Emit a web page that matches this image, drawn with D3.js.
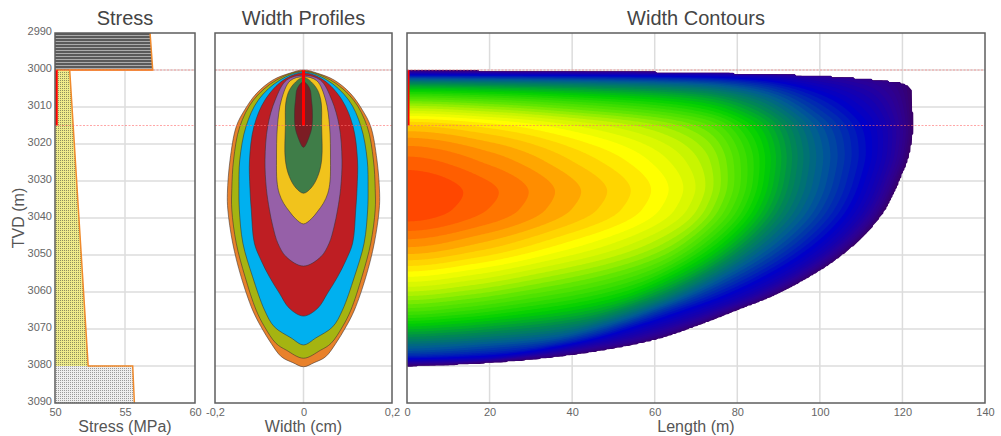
<!DOCTYPE html>
<html>
<head>
<meta charset="utf-8">
<script src="https://cdn.jsdelivr.net/npm/d3@7"></script>
<style>
  body { margin: 0; background: #fff; }
  svg { display: block; font-family: "Liberation Sans", Arial, sans-serif; }
</style>
</head>
<body>
<svg width="1001" height="436"></svg>
<script>
// ---- data ----
const depthTicks = [2990, 3000, 3010, 3020, 3030, 3040, 3050, 3060, 3070, 3080, 3090];
const stressTicks = [50, 55, 60];
const widthTicks = [-0.2, 0, 0.2];
const lengthTicks = [0, 20, 40, 60, 80, 100, 120, 140];
const perfInterval = [3000, 3015];

// stress layers (depth in m, stress in MPa)
const layerTop = [2990, 3000, 3080];
const layerBase = [3000, 3080, 3090];
const stressAtTop = [56.79, 51.05, 55.55];
const stressAtBase = [56.98, 52.37, 55.67];
const layerFill = ['url(#shale)', 'url(#sand)', 'url(#silt)'];

// width profiles, outermost (latest) first; half width in cm
const profileColors = ['#e8812b', '#a5b411', '#00b0ef', '#be1e23', '#9660a8', '#f1c31c', '#3f7d48', '#7c1d24'];
const profileDepths = [
  [3000.0, 3000.9, 3002.7, 3006.3, 3010.8, 3015.3, 3024.3, 3033.3, 3037.8, 3046.8, 3055.9, 3064.9, 3069.4, 3073.9, 3077.5, 3079.1, 3080.2],
  [3000.3, 3002.7, 3008.1, 3015.3, 3024.3, 3032.0, 3037.8, 3046.8, 3055.9, 3064.9, 3069.4, 3073.9, 3075.7, 3077.9],
  [3000.5, 3002.7, 3008.1, 3015.3, 3024.3, 3032.0, 3037.8, 3046.8, 3055.9, 3064.9, 3069.4, 3072.4, 3074.3],
  [3000.8, 3002.7, 3008.1, 3015.3, 3024.3, 3032.0, 3037.8, 3046.8, 3051.4, 3055.9, 3060.4, 3064.4, 3066.5],
  [3001.4, 3002.7, 3008.1, 3015.3, 3024.3, 3032.0, 3037.8, 3042.4, 3046.8, 3050.5, 3053.0],
  [3001.8, 3002.9, 3008.1, 3015.3, 3024.3, 3030.0, 3033.3, 3036.0, 3038.2, 3040.2, 3041.6],
  [3002.0, 3004.5, 3008.1, 3015.3, 3024.3, 3028.8, 3031.9, 3033.3],
  [3003.2, 3005.0, 3008.1, 3010.8, 3015.3, 3018.0, 3020.9]
];
const profileWidths = [
  [0, 0.032, 0.069, 0.106, 0.133, 0.152, 0.166, 0.172, 0.171, 0.160, 0.141, 0.115, 0.096, 0.073, 0.050, 0.024, 0],
  [0, 0.061, 0.113, 0.144, 0.158, 0.162, 0.162, 0.152, 0.132, 0.107, 0.088, 0.062, 0.039, 0],
  [0, 0.053, 0.102, 0.130, 0.144, 0.146, 0.145, 0.137, 0.115, 0.088, 0.066, 0.028, 0],
  [0, 0.045, 0.087, 0.112, 0.122, 0.121, 0.118, 0.111, 0.096, 0.077, 0.054, 0.032, 0],
  [0, 0.038, 0.064, 0.081, 0.087, 0.084, 0.077, 0.069, 0.058, 0.039, 0],
  [0, 0.030, 0.050, 0.059, 0.061, 0.060, 0.055, 0.045, 0.032, 0.018, 0],
  [0, 0.027, 0.039, 0.041, 0.041, 0.032, 0.017, 0],
  [0, 0.014, 0.018, 0.020, 0.019, 0.013, 0]
];

// fracture outline for the contour plot
const topEdgeLength = [0, 24, 52, 72, 86, 102, 115, 120.2, 122.4];
const topEdgeDepth = [3000.0, 3000.3, 3000.5, 3000.9, 3001.2, 3001.8, 3002.9, 3003.6, 3005.4];
const tipDepth = [3005.4, 3015.4, 3022.4, 3029.7, 3037.0, 3044.1, 3050.5, 3055.9, 3061.5, 3065.0, 3068.5, 3073.0, 3075.7, 3077.6, 3078.9, 3079.7, 3080.2];
const tipLength = [122.4, 122.7, 121.9, 119.5, 116.4, 111.5, 105.0, 97.7, 88.0, 80.0, 72.0, 60.0, 48.0, 36.0, 24.0, 12.0, 0];
// width relative to the wellbore width vs fraction of the local half length
const lateralFrac = [0, 0.17, 0.33, 0.5, 0.59, 0.68, 0.8, 0.88, 0.93, 0.985, 1];
const lateralWidth = [1, 0.965, 0.91, 0.84, 0.78, 0.66, 0.44, 0.32, 0.24, 0.09, 0];
// colour map of normalised width
const colorStops = [0, 0.12, 0.25, 0.38, 0.48, 0.58, 0.69, 0.77, 0.83, 0.89, 0.94, 1];
const colorValues = ['#3a0064', '#2c0096', '#0000c8', '#005a96', '#008a50', '#00d000', '#60e600', '#c8f500', '#ffff00', '#ffc000', '#ff8000', '#ff3c00'];

// ---- helpers ----
// monotone cubic through read points (smooth, no overshoot)
function monotone(xs, ys, flatStart) {
  const n = xs.length, h = [], m = [], t = [];
  for (let i = 0; i < n - 1; i++) { h[i] = xs[i + 1] - xs[i]; m[i] = (ys[i + 1] - ys[i]) / h[i]; }
  t[0] = flatStart ? 0 : m[0];
  t[n - 1] = m[n - 2];
  for (let i = 1; i < n - 1; i++) {
    if (m[i - 1] * m[i] <= 0) t[i] = 0;
    else {
      const w1 = 2 * h[i] + h[i - 1], w2 = h[i] + 2 * h[i - 1];
      t[i] = (w1 + w2) / (w1 / m[i - 1] + w2 / m[i]);
    }
  }
  return x => {
    if (x <= xs[0]) return ys[0];
    if (x >= xs[n - 1]) return ys[n - 1];
    const i = Math.min(n - 2, d3.bisectRight(xs, x) - 1);
    const s = (x - xs[i]) / h[i];
    return (1 + 2 * s) * (1 - s) * (1 - s) * ys[i] + s * (1 - s) * (1 - s) * h[i] * t[i]
      + s * s * (3 - 2 * s) * ys[i + 1] + s * s * (s - 1) * h[i] * t[i + 1];
  };
}

// ---- layout ----
const plotTop = 33, plotBottom = 403;
const svg = d3.select('svg');
const fmt = d => String(d).replace('.', ',');

const yDepth = d3.scaleLinear().domain([2990, 3090]).range([plotTop, plotBottom]);
const xStress = d3.scaleLinear().domain([50, 60]).range([55, 195]);
const xWidth = d3.scaleLinear().domain([-0.2, 0.2]).range([215, 392]);
const xLength = d3.scaleLinear().domain([0, 140]).range([407, 985]);

// patterns
const defs = svg.append('defs');
const shale = defs.append('pattern').attr('id', 'shale').attr('patternUnits', 'userSpaceOnUse')
  .attr('width', 4).attr('height', 3);
shale.append('rect').attr('width', 4).attr('height', 3).attr('fill', '#5a5a5a');
shale.append('rect').attr('y', 2).attr('width', 4).attr('height', 1).attr('fill', '#ababab');
const sand = defs.append('pattern').attr('id', 'sand').attr('patternUnits', 'userSpaceOnUse')
  .attr('width', 2).attr('height', 2);
sand.append('rect').attr('width', 2).attr('height', 2).attr('fill', '#efeb8a');
sand.append('rect').attr('width', 1).attr('height', 1).attr('fill', '#8f8f5e');
const silt = defs.append('pattern').attr('id', 'silt').attr('patternUnits', 'userSpaceOnUse')
  .attr('width', 2).attr('height', 2);
silt.append('rect').attr('width', 2).attr('height', 2).attr('fill', '#eeeeee');
silt.append('rect').attr('width', 1).attr('height', 1).attr('fill', '#9a9a9a');

function drawGrid(xScale, xGrid) {
  const g = svg.append('g').attr('stroke', '#dcdcdc').attr('stroke-width', 1.5);
  const [x0, x1] = xScale.range();
  g.selectAll('line.h').data(depthTicks.slice(1, -1)).enter().append('line')
    .attr('x1', x0).attr('x2', x1)
    .attr('y1', d => yDepth(d)).attr('y2', d => yDepth(d));
  g.selectAll('line.v').data(xGrid).enter().append('line')
    .attr('x1', d => xScale(d)).attr('x2', d => xScale(d))
    .attr('y1', plotTop).attr('y2', plotBottom);
}

function drawFrame(xScale, title, xTitle, ticks) {
  const [x0, x1] = xScale.range();
  // perforation markers
  svg.append('g').selectAll('line').data(perfInterval).enter().append('line')
    .attr('x1', x0).attr('x2', x1)
    .attr('y1', d => yDepth(d)).attr('y2', d => yDepth(d))
    .attr('stroke', '#ff6a6a').attr('stroke-opacity', 0.6)
    .attr('stroke-dasharray', '2,1.5');
  svg.append('rect').attr('x', x0).attr('y', plotTop)
    .attr('width', x1 - x0).attr('height', plotBottom - plotTop)
    .attr('fill', 'none').attr('stroke', '#5e5e5e').attr('stroke-width', 1.5);
  const ax = svg.append('g').attr('transform', `translate(0,${plotBottom})`)
    .call(d3.axisBottom(xScale).tickValues(ticks).tickSize(0).tickPadding(5).tickFormat(fmt));
  ax.select('.domain').remove();
  ax.selectAll('text').attr('fill', '#666').attr('font-size', 11);
  svg.append('text').attr('x', (x0 + x1) / 2).attr('y', 25)
    .attr('text-anchor', 'middle').attr('font-size', 20).attr('fill', '#444').text(title);
  svg.append('text').attr('x', (x0 + x1) / 2).attr('y', 432)
    .attr('text-anchor', 'middle').attr('font-size', 16).attr('fill', '#555').text(xTitle);
}

// ---- Stress panel ----
drawGrid(xStress, [55]);
const layers = layerTop.map((t, i) => ({top: t, base: layerBase[i], sTop: stressAtTop[i], sBase: stressAtBase[i], fill: layerFill[i]}));
svg.append('g').selectAll('path').data(layers).enter().append('path')
  .attr('d', d => `M${xStress(50)},${yDepth(d.top)}L${xStress(d.sTop)},${yDepth(d.top)}L${xStress(d.sBase)},${yDepth(d.base)}L${xStress(50)},${yDepth(d.base)}Z`)
  .attr('fill', d => d.fill);
// stress profile line
const stressPts = [];
layers.forEach(d => { stressPts.push([d.sTop, d.top]); stressPts.push([d.sBase, d.base]); });
svg.append('path')
  .attr('d', d3.line().x(p => xStress(p[0])).y(p => yDepth(p[1]))(stressPts))
  .attr('fill', 'none').attr('stroke', '#f08a2c').attr('stroke-width', 1.5);
svg.append('line').attr('x1', xStress(50)).attr('x2', xStress(stressAtBase[0]))
  .attr('y1', yDepth(layerBase[0])).attr('y2', yDepth(layerBase[0]))
  .attr('stroke', '#f08a2c').attr('stroke-width', 1.5);
svg.append('line').attr('x1', xStress(50) + 1.5).attr('x2', xStress(50) + 1.5)
  .attr('y1', yDepth(perfInterval[0])).attr('y2', yDepth(perfInterval[1]))
  .attr('stroke', '#ff0000').attr('stroke-width', 2.5);
drawFrame(xStress, 'Stress', 'Stress (MPa)', stressTicks);

const yAx = svg.append('g').attr('transform', `translate(${xStress(50)},0)`)
  .call(d3.axisLeft(yDepth).tickValues(depthTicks).tickSize(0).tickPadding(3).tickFormat(d => String(d)));
yAx.select('.domain').remove();
yAx.selectAll('text').attr('fill', '#666').attr('font-size', 11).attr('dy', '0.1em');
svg.append('text').attr('transform', `translate(24,${(plotTop + plotBottom) / 2}) rotate(-90)`)
  .attr('text-anchor', 'middle').attr('font-size', 16).attr('fill', '#555').text('TVD (m)');

// ---- Width profiles ----
drawGrid(xWidth, [0]);
const profileLine = d3.line().x(p => xWidth(p[0])).y(p => yDepth(p[1]))
  .curve(d3.curveCatmullRomClosed.alpha(0.5));
const profiles = profileDepths.map((ds, i) => {
  const right = ds.map((d, k) => [profileWidths[i][k], d]);
  const left = ds.slice(1, -1).reverse().map((d, k) => [-profileWidths[i][ds.length - 2 - k], d]);
  return {color: profileColors[i], pts: right.concat(left)};
});
svg.append('g').selectAll('path').data(profiles).enter().append('path')
  .attr('d', d => profileLine(d.pts))
  .attr('fill', d => d.color)
  .attr('stroke', '#3a3030').attr('stroke-width', 0.7).attr('stroke-opacity', 0.8);
svg.append('line').attr('x1', xWidth(0)).attr('x2', xWidth(0))
  .attr('y1', yDepth(perfInterval[0])).attr('y2', yDepth(perfInterval[1]))
  .attr('stroke', '#ff0000').attr('stroke-width', 3);
drawFrame(xWidth, 'Width Profiles', 'Width (cm)', widthTicks);

// ---- Width contours ----
drawGrid(xLength, lengthTicks.slice(1, -1));
const topDepthAt = monotone(topEdgeLength, topEdgeDepth);
const halfLengthAt = monotone(tipDepth, tipLength);
const wellWidth = monotone(profileDepths[0], profileWidths[0]);
const wMax = d3.max(profileWidths[0]);
const lateral = monotone(lateralFrac, lateralWidth, true);
const colorScale = d3.scaleLinear().domain(colorStops).range(colorValues).clamp(true);
const bottomDepth = tipDepth[tipDepth.length - 1];

const cs = 1.5, gx0 = xLength(0), gy0 = yDepth(2998);
const nx = Math.ceil((xLength(125) - gx0) / cs), ny = Math.ceil((yDepth(3082) - gy0) / cs);
const values = new Float64Array(nx * ny);
for (let j = 0; j < ny; j++) {
  for (let i = 0; i < nx; i++) {
    const L = xLength.invert(gx0 + (i + 0.5) * cs);
    const d = yDepth.invert(gy0 + (j + 0.5) * cs);
    const hl = halfLengthAt(d);
    const inside = d >= topDepthAt(L) && d <= bottomDepth && L <= hl;
    values[j * nx + i] = inside ? wellWidth(d) / wMax * lateral(L / hl) : -0.05;
  }
}
const levels = d3.range(0, 1, 0.02);
const bands = d3.contours().size([nx, ny]).thresholds(levels)(values);
const gridProj = d3.geoTransform({
  point: function(x, y) { this.stream.point(gx0 + x * cs, gy0 + y * cs); }
});
svg.append('g').selectAll('path').data(bands).enter().append('path')
  .attr('d', d3.geoPath(gridProj))
  .attr('fill', d => colorScale(d.value + 0.01));
svg.append('line').attr('x1', xLength(0) + 1.5).attr('x2', xLength(0) + 1.5)
  .attr('y1', yDepth(perfInterval[0])).attr('y2', yDepth(perfInterval[1]))
  .attr('stroke', '#ff0000').attr('stroke-width', 2);
drawFrame(xLength, 'Width Contours', 'Length (m)', lengthTicks);
</script>
</body>
</html>
